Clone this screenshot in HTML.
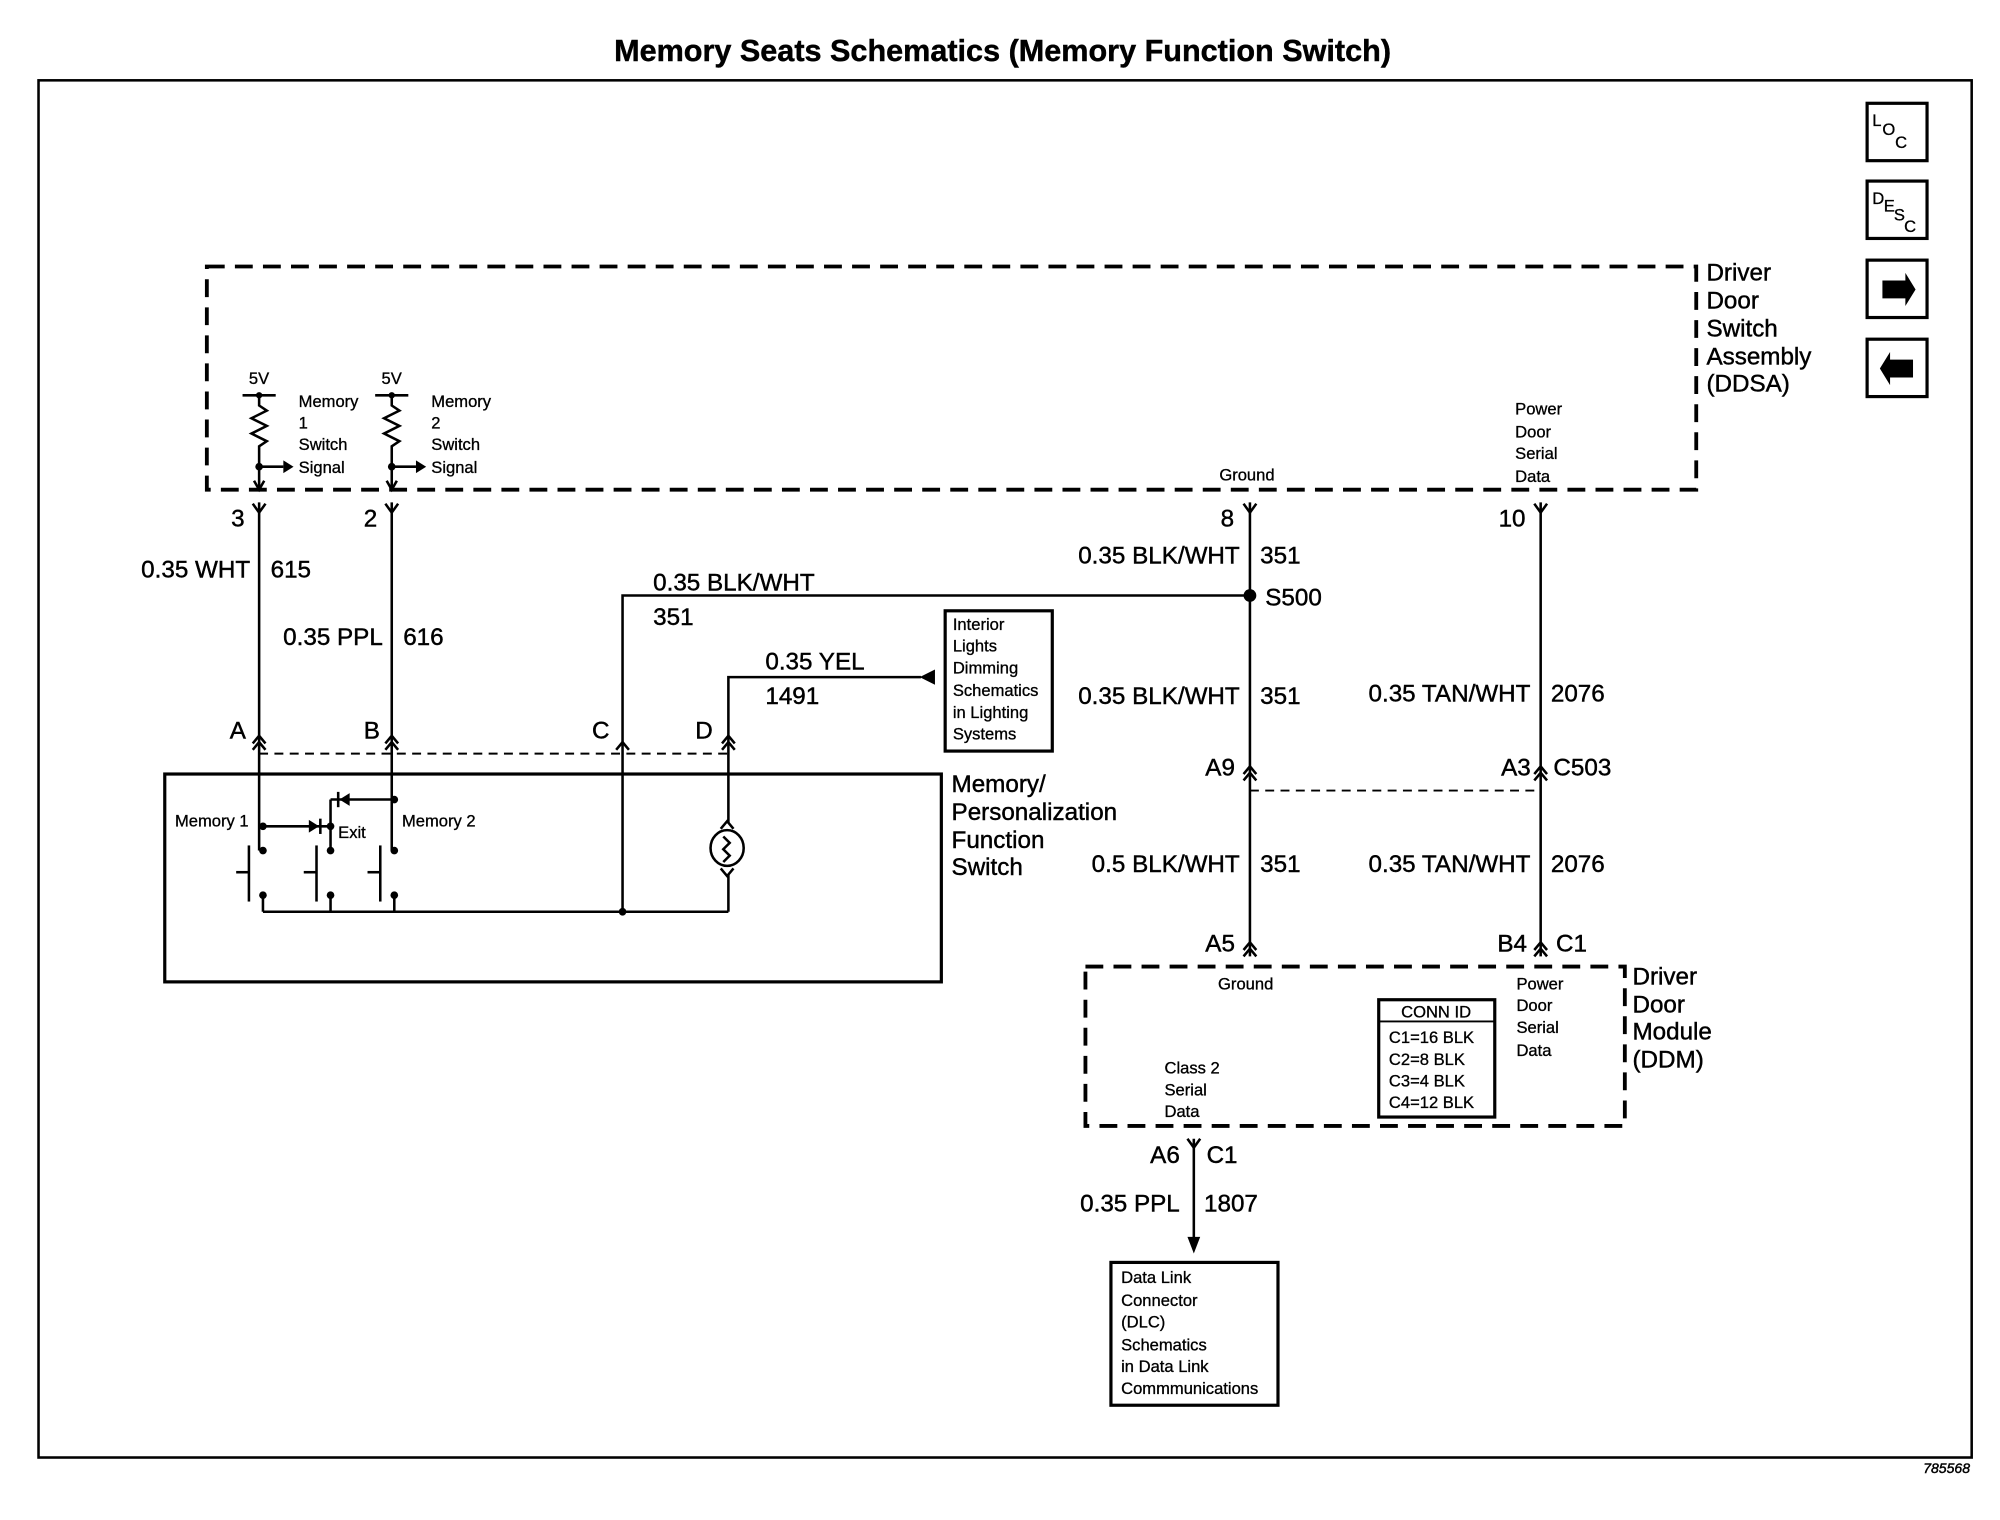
<!DOCTYPE html>
<html><head><meta charset="utf-8"><style>
html,body{margin:0;padding:0;background:#fff}
svg{display:block}
text{font-family:"Liberation Sans",Arial,sans-serif;fill:#000;stroke:#000;stroke-width:0.35}
.s{font-size:13px;stroke-width:0.25}
.m{font-size:19px}
.e{text-anchor:end}
</style></head><body>
<svg width="2000" height="1520" viewBox="0 0 1568 1192" xmlns="http://www.w3.org/2000/svg">
<g fill="none" stroke="#000">
<rect x="30" y="63" width="1516" height="1080" stroke-width="2"/>
<rect x="1464" y="81" width="47" height="45" stroke-width="2.5"/>
<rect x="1464" y="142" width="47" height="45" stroke-width="2.5"/>
<rect x="1464" y="204" width="47" height="45" stroke-width="2.5"/>
<rect x="1464" y="266" width="47" height="45" stroke-width="2.5"/>
<rect x="162" y="209" width="1168" height="175" stroke-width="3" stroke-dasharray="14 8"/>
<rect x="851" y="758" width="423" height="125" stroke-width="3" stroke-dasharray="14 8"/>
<rect x="129" y="607" width="609" height="163" stroke-width="2.5"/>
<rect x="741" y="479" width="84" height="110" stroke-width="2.5"/>
<rect x="1081" y="784" width="91" height="92" stroke-width="2.5"/>
<line x1="1081" y1="801" x2="1172" y2="801" stroke-width="1.5"/>
<rect x="871" y="990" width="131" height="112" stroke-width="2.5"/>
<g stroke-width="2">
<line x1="190" y1="310" x2="216" y2="310"/><line x1="294" y1="310" x2="320" y2="310"/>
<polyline points="203,310 203,318 209,322 197,328 209,334 197,340 209,346 203,350 203,384"/>
<polyline points="307,310 307,318 313,322 301,328 313,334 301,340 313,346 307,350 307,384"/>
<line x1="203" y1="366" x2="222" y2="366"/><line x1="307" y1="366" x2="326" y2="366"/>
<polyline points="199,377 203,384 207,377"/><polyline points="303,377 307,384 311,377"/>
<line x1="203" y1="394" x2="203" y2="667"/>
<line x1="307" y1="394" x2="307" y2="667"/>
<polyline points="198,395 203,402 208,395"/><polyline points="302,395 307,402 312,395"/>
<polyline points="488,716 488,467 980,467"/>
<polyline points="571,645 571,531 722,531"/>
<line x1="571" y1="686" x2="571" y2="715"/>
<polyline points="198,583 203,577 208,583"/><polyline points="198,588 203,582 208,588"/>
<polyline points="302,583 307,577 312,583"/><polyline points="302,588 307,582 312,588"/>
<polyline points="483,588 488,582 493,588"/>
<polyline points="566,583 571,577 576,583"/><polyline points="566,588 571,582 576,588"/>
<line x1="206" y1="648" x2="259" y2="648"/>
<line x1="259" y1="627" x2="259" y2="667"/>
<line x1="259" y1="627" x2="309" y2="627"/>
<line x1="195" y1="663" x2="195" y2="707"/><line x1="185" y1="684" x2="195" y2="684"/>
<line x1="248" y1="663" x2="248" y2="707"/><line x1="238" y1="684" x2="248" y2="684"/>
<line x1="298" y1="663" x2="298" y2="707"/><line x1="288" y1="684" x2="298" y2="684"/>
<line x1="206" y1="702" x2="206" y2="715"/><line x1="259" y1="702" x2="259" y2="715"/><line x1="309" y1="702" x2="309" y2="715"/>
<line x1="206" y1="715" x2="571" y2="715"/>
<ellipse cx="570" cy="665" rx="13" ry="14"/>
<polyline points="567,656 572,661 567,666 572,671 567,676"/>
<polyline points="565,650 570,644 575,650"/><polyline points="565,681 570,687 575,681"/>
<line x1="980" y1="394" x2="980" y2="750"/>
<line x1="1208" y1="394" x2="1208" y2="750"/>
<polyline points="975,395 980,402 985,395"/><polyline points="1203,395 1208,402 1213,395"/>
<polyline points="975,607 980,601 985,607"/><polyline points="975,612 980,606 985,612"/>
<polyline points="1203,607 1208,601 1213,607"/><polyline points="1203,612 1208,606 1213,612"/>
<polyline points="975,745 980,739 985,745"/><polyline points="975,750 980,744 985,750"/>
<polyline points="1203,745 1208,739 1213,745"/><polyline points="1203,750 1208,744 1213,750"/>
<line x1="936" y1="893" x2="936" y2="972"/>
<polyline points="931,893 936,900 941,893"/>
</g>
<line x1="203" y1="591" x2="571" y2="591" stroke-width="1.5" stroke-dasharray="7 5"/>
<line x1="980" y1="620" x2="1208" y2="620" stroke-width="1.5" stroke-dasharray="7 5"/>
</g>
<g fill="#000">
<polygon points="1476,220 1494,220 1494,214 1502,227 1494,240 1494,234 1476,234"/>
<polygon points="1500,282 1482,282 1482,276 1474,289 1482,302 1482,296 1500,296"/>
<polygon points="222,361 230,366 222,371"/><polygon points="326,361 334,366 326,371"/>
<circle cx="203" cy="310" r="2.5"/><circle cx="307" cy="310" r="2.5"/>
<circle cx="203" cy="366" r="3"/><circle cx="307" cy="366" r="3"/>
<polygon points="733,525 721,531 733,537"/>
<circle cx="980" cy="467" r="5"/>
<circle cx="206" cy="648" r="3"/><circle cx="259" cy="648" r="3"/><circle cx="309" cy="627" r="3"/>
<circle cx="206" cy="667" r="3"/><circle cx="259" cy="667" r="3"/><circle cx="309" cy="667" r="3"/>
<circle cx="206" cy="702" r="3"/><circle cx="259" cy="702" r="3"/><circle cx="309" cy="702" r="3"/>
<circle cx="488" cy="715" r="3"/>
<polygon points="242,643 250,648 242,653"/><rect x="250" y="642" width="2" height="12"/>
<polygon points="274,622 266,627 274,632"/><rect x="264" y="621" width="2" height="12"/>
<polygon points="931,970 941,970 936,983"/>
</g>
<text x="786" y="48" font-size="24" font-weight="bold" text-anchor="middle">Memory Seats Schematics (Memory Function Switch)</text>
<text x="1508" y="1155" font-size="11" font-style="italic" stroke-width="0.2">785568</text>
<text x="1468" y="99" class="s">L</text><text x="1476" y="106" class="s">O</text><text x="1486" y="116" class="s">C</text>
<text x="1468" y="160" class="s">D</text><text x="1477" y="166" class="s">E</text><text x="1485" y="173" class="s">S</text><text x="1493" y="182" class="s">C</text>
<text x="1338" y="220" class="m">Driver</text><text x="1338" y="242" class="m">Door</text><text x="1338" y="264" class="m">Switch</text><text x="1338" y="286" class="m">Assembly</text><text x="1338" y="307" class="m">(DDSA)</text>
<text x="195" y="301" class="s">5V</text><text x="299" y="301" class="s">5V</text>
<text x="234" y="319" class="s">Memory</text><text x="234" y="336" class="s">1</text><text x="234" y="353" class="s">Switch</text><text x="234" y="371" class="s">Signal</text>
<text x="338" y="319" class="s">Memory</text><text x="338" y="336" class="s">2</text><text x="338" y="353" class="s">Switch</text><text x="338" y="371" class="s">Signal</text>
<text x="181" y="413" class="m">3</text><text x="285" y="413" class="m">2</text>
<text x="196" y="453" class="m e">0.35 WHT</text><text x="212" y="453" class="m">615</text>
<text x="300" y="506" class="m e">0.35 PPL</text><text x="316" y="506" class="m">616</text>
<text x="512" y="463" class="m">0.35 BLK/WHT</text><text x="512" y="490" class="m">351</text>
<text x="600" y="525" class="m">0.35 YEL</text><text x="600" y="552" class="m">1491</text>
<text x="747" y="494" class="s">Interior</text><text x="747" y="511" class="s">Lights</text><text x="747" y="528" class="s">Dimming</text><text x="747" y="546" class="s">Schematics</text><text x="747" y="563" class="s">in Lighting</text><text x="747" y="580" class="s">Systems</text>
<text x="180" y="579" class="m">A</text><text x="285" y="579" class="m">B</text><text x="464" y="579" class="m">C</text><text x="545" y="579" class="m">D</text>
<text x="746" y="621" class="m">Memory/</text><text x="746" y="643" class="m">Personalization</text><text x="746" y="665" class="m">Function</text><text x="746" y="686" class="m">Switch</text>
<text x="137" y="648" class="s">Memory 1</text><text x="315" y="648" class="s">Memory 2</text><text x="265" y="657" class="s">Exit</text>
<text x="956" y="377" class="s">Ground</text>
<text x="1188" y="325" class="s">Power</text><text x="1188" y="343" class="s">Door</text><text x="1188" y="360" class="s">Serial</text><text x="1188" y="378" class="s">Data</text>
<text x="957" y="413" class="m">8</text><text x="1175" y="413" class="m">10</text>
<text x="972" y="442" class="m e">0.35 BLK/WHT</text><text x="988" y="442" class="m">351</text>
<text x="992" y="475" class="m">S500</text>
<text x="972" y="552" class="m e">0.35 BLK/WHT</text><text x="988" y="552" class="m">351</text>
<text x="1200" y="550" class="m e">0.35 TAN/WHT</text><text x="1216" y="550" class="m">2076</text>
<text x="945" y="608" class="m">A9</text><text x="1177" y="608" class="m">A3</text><text x="1218" y="608" class="m">C503</text>
<text x="972" y="684" class="m e">0.5 BLK/WHT</text><text x="988" y="684" class="m">351</text>
<text x="1200" y="684" class="m e">0.35 TAN/WHT</text><text x="1216" y="684" class="m">2076</text>
<text x="945" y="746" class="m">A5</text><text x="1174" y="746" class="m">B4</text><text x="1220" y="746" class="m">C1</text>
<text x="955" y="776" class="s">Ground</text>
<text x="1189" y="776" class="s">Power</text><text x="1189" y="793" class="s">Door</text><text x="1189" y="810" class="s">Serial</text><text x="1189" y="828" class="s">Data</text>
<text x="1280" y="772" class="m">Driver</text><text x="1280" y="794" class="m">Door</text><text x="1280" y="815" class="m">Module</text><text x="1280" y="837" class="m">(DDM)</text>
<text x="1126" y="798" class="s" text-anchor="middle">CONN ID</text>
<text x="1089" y="818" class="s">C1=16 BLK</text><text x="1089" y="835" class="s">C2=8 BLK</text><text x="1089" y="852" class="s">C3=4 BLK</text><text x="1089" y="869" class="s">C4=12 BLK</text>
<text x="913" y="842" class="s">Class 2</text><text x="913" y="859" class="s">Serial</text><text x="913" y="876" class="s">Data</text>
<text x="925" y="912" class="m e">A6</text><text x="946" y="912" class="m">C1</text>
<text x="925" y="950" class="m e">0.35 PPL</text><text x="944" y="950" class="m">1807</text>
<text x="879" y="1006" class="s">Data Link</text><text x="879" y="1024" class="s">Connector</text><text x="879" y="1041" class="s">(DLC)</text><text x="879" y="1059" class="s">Schematics</text><text x="879" y="1076" class="s">in Data Link</text><text x="879" y="1093" class="s">Commmunications</text>
</svg>
</body></html>
